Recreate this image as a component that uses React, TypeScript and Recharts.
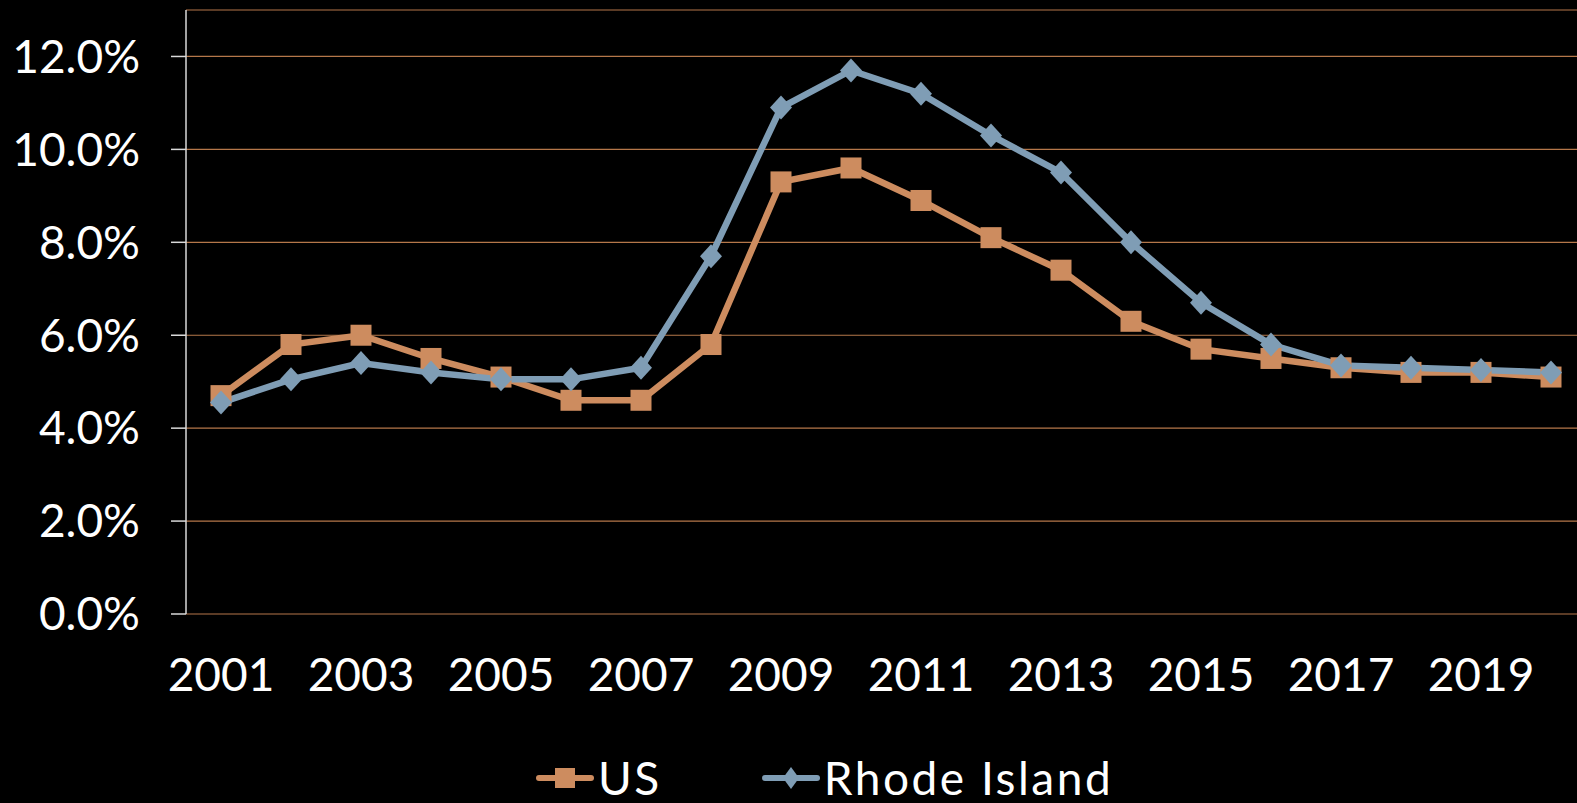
import React from 'react'
import { LineChart, Line, XAxis, YAxis, CartesianGrid } from 'recharts'

const years = [2001, 2002, 2003, 2004, 2005, 2006, 2007, 2008, 2009, 2010, 2011, 2012, 2013, 2014, 2015, 2016, 2017, 2018, 2019, 2020]
const usRate = [4.7, 5.8, 6.0, 5.5, 5.1, 4.6, 4.6, 5.8, 9.3, 9.6, 8.9, 8.1, 7.4, 6.3, 5.7, 5.5, 5.3, 5.2, 5.2, 5.1]
const riRate = [4.55, 5.05, 5.4, 5.2, 5.05, 5.05, 5.3, 7.7, 10.9, 11.7, 11.2, 10.3, 9.5, 8.0, 6.7, 5.8, 5.35, 5.3, 5.25, 5.2]
const yTicks = [0, 2, 4, 6, 8, 10, 12]
const labelYears = [2001, 2003, 2005, 2007, 2009, 2011, 2013, 2015, 2017, 2019]
const boundaryTicks = [2000.5, 2001.5, 2002.5, 2003.5, 2004.5, 2005.5, 2006.5, 2007.5, 2008.5, 2009.5, 2010.5, 2011.5, 2012.5, 2013.5, 2014.5, 2015.5, 2016.5, 2017.5, 2018.5, 2019.5, 2020.5]

const data = years.map((year, i) => ({ year, us: usRate[i], ri: riRate[i] }))

const US_COLOR = '#CD8C5F'
const RI_COLOR = '#7F9DB5'
const GRID = '#B5774A'
const AXIS = '#D9D9D9'
const FONT = 'Lato, "Open Sans", sans-serif'

const SquareDot = (props: any) => {
  const { cx, cy } = props
  if (cx == null || cy == null) return null
  return <rect x={cx - 10.5} y={cy - 10.5} width={21} height={21} fill={US_COLOR} />
}

const DiamondDot = (props: any) => {
  const { cx, cy } = props
  if (cx == null || cy == null) return null
  return (
    <polygon
      points={`${cx},${cy - 12} ${cx + 11},${cy} ${cx},${cy + 12} ${cx - 11},${cy}`}
      fill={RI_COLOR}
    />
  )
}

function LegendItem({ color, label, shape }: { color: string; label: string; shape: 'square' | 'diamond' }) {
  return (
    <div style={{ display: 'flex', alignItems: 'center' }}>
      <svg width={58} height={26}>
        <line x1={3} y1={13} x2={55} y2={13} stroke={color} strokeWidth={6} strokeLinecap="round" />
        {shape === 'square' ? (
          <rect x={19} y={3} width={20} height={20} fill={color} />
        ) : (
          <polygon points="29,2 37,13 29,24 21,13" fill={color} />
        )}
      </svg>
      <span
        style={{
          color: '#fff',
          fontSize: 46,
          fontFamily: FONT,
          marginLeft: 4,
          lineHeight: 1,
          letterSpacing: 2.5,
        }}
      >
        {label}
      </span>
    </div>
  )
}

export default function App() {
  return (
    <div
      style={{
        position: 'fixed',
        left: 0,
        top: 0,
        width: 1577,
        height: 803,
        overflow: 'hidden',
        background: '#000',
      }}
    >
      <LineChart
        width={1600}
        height={803}
        data={data}
        margin={{ top: 10, right: 14, left: 0, bottom: 99 }}
        style={{ fontFamily: FONT }}
      >
        <CartesianGrid horizontal vertical={false} stroke={GRID} strokeWidth={1.2} />
        <XAxis
          xAxisId="a"
          dataKey="year"
          type="number"
          domain={[2000.5, 2020.5]}
          ticks={boundaryTicks}
          tickFormatter={() => ''}
          height={0}
          tickSize={16}
          axisLine={{ stroke: AXIS, strokeWidth: 1.5 }}
          tickLine={{ stroke: AXIS, strokeWidth: 1.5 }}
          allowDataOverflow
        />
        <XAxis
          xAxisId="b"
          dataKey="year"
          type="number"
          domain={[2000.5, 2020.5]}
          ticks={labelYears}
          height={90}
          tickSize={16}
          tickMargin={28}
          axisLine={false}
          tickLine={false}
          tick={{ fill: '#fff', fontSize: 46 }}
          allowDataOverflow
        />
        <YAxis
          domain={[0, 13]}
          ticks={yTicks}
          width={186}
          tickSize={15}
          tickMargin={31}
          tickFormatter={(v: number) => `${v.toFixed(1)}%`}
          axisLine={{ stroke: AXIS, strokeWidth: 1.5 }}
          tickLine={{ stroke: AXIS, strokeWidth: 1.5 }}
          tick={{ fill: '#fff', fontSize: 46 }}
        />
        <Line
          xAxisId="a"
          type="linear"
          dataKey="us"
          name="US"
          stroke={US_COLOR}
          strokeWidth={6.5}
          dot={<SquareDot />}
          activeDot={false}
          isAnimationActive={false}
        />
        <Line
          xAxisId="b"
          type="linear"
          dataKey="ri"
          name="Rhode Island"
          stroke={RI_COLOR}
          strokeWidth={6.5}
          dot={<DiamondDot />}
          activeDot={false}
          isAnimationActive={false}
        />
      </LineChart>
      <div
        style={{
          position: 'absolute',
          left: 536,
          top: 755,
          display: 'flex',
          alignItems: 'center',
          gap: 100,
        }}
      >
        <LegendItem color={US_COLOR} label="US" shape="square" />
        <LegendItem color={RI_COLOR} label="Rhode Island" shape="diamond" />
      </div>
    </div>
  )
}
